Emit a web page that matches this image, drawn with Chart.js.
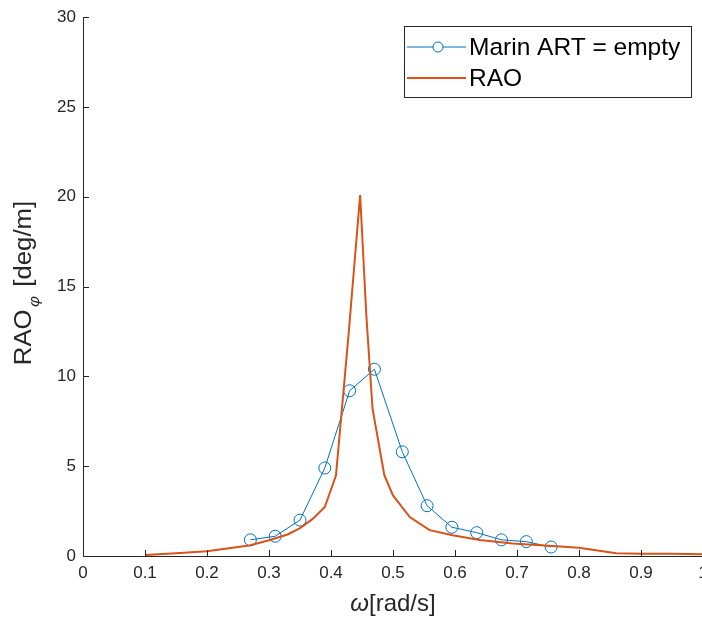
<!DOCTYPE html>
<html>
<head>
<meta charset="utf-8">
<script src="https://cdn.jsdelivr.net/npm/chart.js@4.4.0/dist/chart.umd.min.js"></script>
<style>
  html, body { margin: 0; padding: 0; background: #fff; }
  #wrap { width: 702px; height: 619px; overflow: hidden; position: relative; }
</style>
</head>
<body>
<div id="wrap"><canvas id="raoChart" width="710" height="619"></canvas></div>
<script>
// measured points (Marin ART, empty tank)
const marinOmega = [0.27, 0.31, 0.35, 0.39, 0.43, 0.47, 0.515, 0.555, 0.595, 0.635, 0.675, 0.715, 0.755];
const marinRao   = [0.9, 1.1, 2.0, 4.9, 9.2, 10.4, 5.8, 2.8, 1.6, 1.3, 0.9, 0.8, 0.5];

// computed RAO curve
const raoOmega = [0.1, 0.15, 0.2, 0.25, 0.27, 0.3, 0.33, 0.35, 0.37, 0.39, 0.408, 0.428, 0.447,
                  0.457, 0.467, 0.486, 0.5, 0.527, 0.559, 0.596, 0.64, 0.693, 0.757, 0.8,
                  0.83, 0.86, 0.9, 0.95, 1.0];
const raoValue = [0.05, 0.15, 0.27, 0.5, 0.6, 0.88, 1.2, 1.55, 2.05, 2.73, 4.48, 12.2, 20.1,
                  13.4, 8.2, 4.5, 3.37, 2.17, 1.44, 1.16, 0.89, 0.7, 0.55, 0.46,
                  0.3, 0.15, 0.12, 0.13, 0.1];

// axis ticks
const xTicks = [0, 0.1, 0.2, 0.3, 0.4, 0.5, 0.6, 0.7, 0.8, 0.9, 1];
const xTickLabels = ['0', '0.1', '0.2', '0.3', '0.4', '0.5', '0.6', '0.7', '0.8', '0.9', '1'];
const yTicks = [0, 5, 10, 15, 20, 25, 30];
const yTickLabels = ['0', '5', '10', '15', '20', '25', '30'];

const seriesNames = ['Marin ART = empty', 'RAO'];
const BLUE = '#0072BD';
const ORANGE = '#D95319';
const AXIS = '#262626';
const FONT = '"Liberation Sans", Arial, sans-serif';

const toPoints = (xs, ys) => xs.map((x, i) => ({ x: x, y: ys[i] }));

// axes lines, inward ticks, axis titles and legend box (MATLAB look)
const matlabAxes = {
    id: 'matlabAxes',
    afterDraw(chart) {
        const ctx = chart.ctx;
        const area = chart.chartArea;
        const xs = chart.scales.x, ys = chart.scales.y;
        ctx.save();
        ctx.strokeStyle = AXIS;
        ctx.lineWidth = 1;
        ctx.beginPath();
        ctx.moveTo(area.left + 0.5, area.top);
        ctx.lineTo(area.left + 0.5, area.bottom + 0.5);
        ctx.lineTo(area.right, area.bottom + 0.5);
        // ticks pointing into the plot
        xTicks.forEach(v => {
            const px = Math.round(xs.getPixelForValue(v)) + 0.5;
            ctx.moveTo(px, area.bottom);
            ctx.lineTo(px, area.bottom - 6);
        });
        yTicks.forEach(v => {
            const py = Math.round(ys.getPixelForValue(v)) + 0.5;
            ctx.moveTo(area.left, py);
            ctx.lineTo(area.left + 6, py);
        });
        ctx.stroke();

        // x title
        ctx.fillStyle = AXIS;
        ctx.textBaseline = 'middle';
        ctx.textAlign = 'left';
        const cx = 393;
        ctx.font = 'italic 24px ' + FONT;
        const wOm = ctx.measureText('ω').width;
        ctx.font = '24px ' + FONT;
        const wRest = ctx.measureText('[rad/s]').width;
        let sx = cx - (wOm + wRest) / 2;
        ctx.font = 'italic 24px ' + FONT;
        ctx.fillText('ω', sx, 604);
        ctx.font = '24px ' + FONT;
        ctx.fillText('[rad/s]', sx + wOm, 604);

        // y title, rotated, with phi subscript
        ctx.save();
        ctx.translate(25, 283);
        ctx.rotate(-Math.PI / 2);
        ctx.scale(1.12, 1);
        ctx.font = '23px ' + FONT;
        const wA = ctx.measureText('RAO').width;
        ctx.font = 'italic 15px ' + FONT;
        const wPhi = ctx.measureText('φ').width;
        ctx.font = '23px ' + FONT;
        const wB = ctx.measureText(' [deg/m]').width;
        let tx = -(wA + wPhi + 4 + wB) / 2;
        ctx.fillText('RAO', tx, 0);
        ctx.font = 'italic 15px ' + FONT;
        ctx.fillText('φ', tx + wA + 2, 10);
        ctx.font = '23px ' + FONT;
        ctx.fillText(' [deg/m]', tx + wA + wPhi + 4, 0);
        ctx.restore();

        // legend
        const lx = 404, ly = 26, lw = 287, lh = 71;
        ctx.fillStyle = '#fff';
        ctx.fillRect(lx, ly, lw, lh);
        ctx.strokeStyle = AXIS;
        ctx.strokeRect(lx + 0.5, ly + 0.5, lw, lh);
        const rows = [ly + 21, ly + 52];
        ctx.lineWidth = 1;
        ctx.strokeStyle = BLUE;
        ctx.beginPath();
        ctx.moveTo(407, rows[0]);
        ctx.lineTo(433, rows[0]);
        ctx.moveTo(443, rows[0]);
        ctx.lineTo(466, rows[0]);
        ctx.stroke();
        ctx.beginPath();
        ctx.arc(438, rows[0], 5, 0, Math.PI * 2);
        ctx.stroke();
        ctx.strokeStyle = ORANGE;
        ctx.lineWidth = 2;
        ctx.beginPath();
        ctx.moveTo(407, rows[1]);
        ctx.lineTo(466, rows[1]);
        ctx.stroke();
        ctx.fillStyle = '#000';
        ctx.font = '24.5px ' + FONT;
        ctx.textAlign = 'left';
        ctx.fillText(seriesNames[0], 469, rows[0] + 1);
        ctx.fillText(seriesNames[1], 469, rows[1] + 1);
        ctx.restore();
    }
};

new Chart(document.getElementById('raoChart'), {
    type: 'scatter',
    data: {
        datasets: [
            {
                label: seriesNames[0],
                data: toPoints(marinOmega, marinRao),
                showLine: true,
                borderColor: BLUE,
                borderWidth: 1,
                pointRadius: 6,
                pointBorderWidth: 1,
                pointBorderColor: BLUE,
                pointBackgroundColor: 'rgba(0,0,0,0)',
                order: 2
            },
            {
                label: seriesNames[1],
                data: toPoints(raoOmega, raoValue),
                showLine: true,
                borderColor: ORANGE,
                borderWidth: 2,
                pointRadius: 0,
                tension: 0,
                order: 1
            }
        ]
    },
    options: {
        responsive: false,
        animation: false,
        devicePixelRatio: 1,
        layout: { padding: { top: 14, right: 6, left: 0, bottom: 0 } },
        plugins: {
            legend: { display: false },
            tooltip: { enabled: false }
        },
        scales: {
            x: {
                type: 'linear',
                min: 0,
                max: 1,
                afterBuildTicks: s => { s.ticks = xTicks.map(v => ({ value: v })); },
                afterFit: s => { s.height = 63; s.paddingRight = 0; s.paddingLeft = 0; },
                grid: { display: false, drawTicks: false },
                border: { display: false },
                ticks: {
                    padding: 7,
                    color: AXIS,
                    font: { family: FONT, size: 17 },
                    maxRotation: 0,
                    callback: (v, i) => xTickLabels[i]
                }
            },
            y: {
                type: 'linear',
                min: 0,
                max: 30,
                afterBuildTicks: s => { s.ticks = yTicks.map(v => ({ value: v })); },
                afterFit: s => { s.width = 83; },
                grid: { display: false, drawTicks: false },
                border: { display: false },
                ticks: {
                    padding: 7,
                    color: AXIS,
                    font: { family: FONT, size: 17 },
                    callback: (v, i) => yTickLabels[i]
                }
            }
        }
    },
    plugins: [matlabAxes]
});
</script>
</body>
</html>
